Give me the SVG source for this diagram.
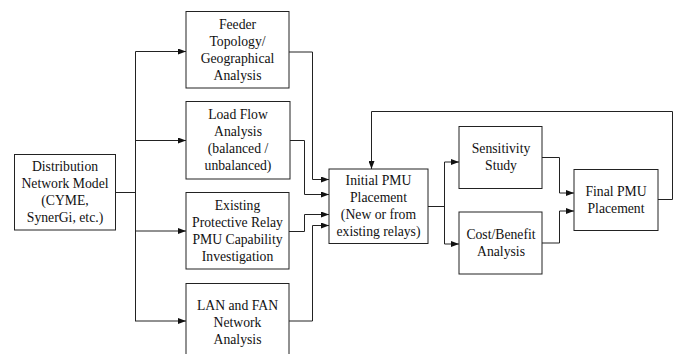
<svg xmlns="http://www.w3.org/2000/svg" width="676" height="354" viewBox="0 0 676 354">
  <style>
    .box { fill: #ffffff; stroke: #222222; stroke-width: 1; }
    .lbl { font-family: "Liberation Serif", "Times New Roman", serif; font-size: 13.7px; fill: #111111; text-anchor: middle; }
    .wire { fill: none; stroke: #222222; stroke-width: 1; }
    .arr { marker-end: url(#head); }
  </style>
  <defs>
    <marker id="head" markerUnits="userSpaceOnUse" markerWidth="8" markerHeight="6" refX="8" refY="3" orient="auto">
      <path d="M0,0 L8,3 L0,6 z" fill="#111111"/>
    </marker>
  </defs>
  <rect width="676" height="354" fill="#ffffff"/>

  <g id="connectors">
    <path class="wire" d="M116,192.5 H135.5"/>
    <path class="wire" d="M135.5,51.5 V321"/>
    <path class="wire arr" d="M135.5,51.5 H186"/>
    <path class="wire arr" d="M135.5,140.5 H186"/>
    <path class="wire arr" d="M135.5,231 H186"/>
    <path class="wire arr" d="M135,321 H186"/>

    <path class="wire arr" d="M289,52 H312.5 V179.5 H329"/>
    <path class="wire arr" d="M290,140.5 H304.5 V194.5 H329"/>
    <path class="wire arr" d="M289,231.5 H304.5 V214.5 H329"/>
    <path class="wire arr" d="M289,321 H312.5 V225.5 H329"/>

    <path class="wire" d="M428,206.5 H444.5"/>
    <path class="wire" d="M444.5,162 V244"/>
    <path class="wire arr" d="M444.5,162 H459"/>
    <path class="wire arr" d="M444.5,244 H459"/>

    <path class="wire arr" d="M542,157.5 H559.5 V193 H574"/>
    <path class="wire arr" d="M542,243 H559.5 V211 H574"/>

    <path class="wire arr" d="M658,199.5 H672.5 V111.5 H371.5 V169"/>
  </g>

  <g id="dist-model">
    <rect class="box" x="14.5" y="154.5" width="101" height="75.5"/>
    <text class="lbl" x="65" y="171">Distribution</text>
    <text class="lbl" x="65" y="188">Network Model</text>
    <text class="lbl" x="65" y="205">(CYME,</text>
    <text class="lbl" x="65" y="222">SynerGi, etc.)</text>
  </g>

  <g id="feeder-topology">
    <rect class="box" x="186" y="11.5" width="103" height="76.5"/>
    <text class="lbl" x="237.5" y="28.5">Feeder</text>
    <text class="lbl" x="237.5" y="45.5">Topology/</text>
    <text class="lbl" x="237.5" y="62.5">Geographical</text>
    <text class="lbl" x="237.5" y="79.5">Analysis</text>
  </g>

  <g id="load-flow">
    <rect class="box" x="186" y="101.5" width="104" height="77.5"/>
    <text class="lbl" x="238" y="119">Load Flow</text>
    <text class="lbl" x="238" y="136">Analysis</text>
    <text class="lbl" x="238" y="153">(balanced /</text>
    <text class="lbl" x="238" y="170">unbalanced)</text>
  </g>

  <g id="relay-pmu">
    <rect class="box" x="186" y="192.5" width="103" height="76.5"/>
    <text class="lbl" x="237.5" y="209.5">Existing</text>
    <text class="lbl" x="237.5" y="226.5">Protective Relay</text>
    <text class="lbl" x="237.5" y="243.5">PMU Capability</text>
    <text class="lbl" x="237.5" y="260.5">Investigation</text>
  </g>

  <g id="lan-fan">
    <rect class="box" x="186" y="283.5" width="103" height="77"/>
    <text class="lbl" x="237.5" y="309.5">LAN and FAN</text>
    <text class="lbl" x="237.5" y="326.5">Network</text>
    <text class="lbl" x="237.5" y="343.5">Analysis</text>
  </g>

  <g id="initial-pmu">
    <rect class="box" x="329" y="169" width="99" height="74.5"/>
    <text class="lbl" x="378.5" y="185">Initial PMU</text>
    <text class="lbl" x="378.5" y="202">Placement</text>
    <text class="lbl" x="378.5" y="219">(New or from</text>
    <text class="lbl" x="378.5" y="236">existing relays)</text>
  </g>

  <g id="sensitivity">
    <rect class="box" x="459" y="126.5" width="83" height="62"/>
    <text class="lbl" x="501" y="153">Sensitivity</text>
    <text class="lbl" x="501" y="170">Study</text>
  </g>

  <g id="cost-benefit">
    <rect class="box" x="459" y="212" width="83" height="62"/>
    <text class="lbl" x="501" y="239">Cost/Benefit</text>
    <text class="lbl" x="501" y="256">Analysis</text>
  </g>

  <g id="final-pmu">
    <rect class="box" x="574" y="169.5" width="84" height="61"/>
    <text class="lbl" x="616" y="196">Final PMU</text>
    <text class="lbl" x="616" y="213">Placement</text>
  </g>
</svg>
